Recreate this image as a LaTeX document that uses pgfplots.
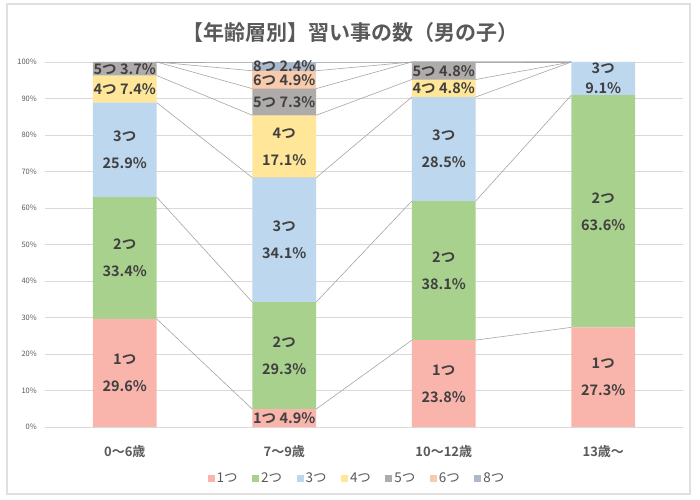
\documentclass[border=0pt]{standalone}
\usepackage{fontspec}
\setmainfont{Noto Sans CJK JP}[BoldFont={Noto Sans CJK JP Bold}]
\usepackage{pgfplots}
\pgfplotsset{compat=1.18}
\definecolor{c1}{HTML}{F9B5AC}
\definecolor{c2}{HTML}{A9D18E}
\definecolor{c3}{HTML}{BDD7EE}
\definecolor{c4}{HTML}{FFE699}
\definecolor{c5}{HTML}{AFABAB}
\definecolor{c6}{HTML}{F8CBAD}
\definecolor{c8}{HTML}{ADB9CA}
\definecolor{txt}{HTML}{404040}
\definecolor{ttl}{HTML}{595959}
\definecolor{grd}{HTML}{D9D9D9}
\definecolor{sl}{HTML}{A6A6A6}
\begin{document}
\begin{tikzpicture}
\useasboundingbox (0,0) rectangle (700bp,500bp);
\fill[white] (0,0) rectangle (700bp,500bp);
\draw[black!12, line width=1.2bp] (7bp,6bp) rectangle (690bp,496bp);
\node[font=\bfseries\fontsize{21bp}{25bp}\selectfont, text=ttl] at (350bp,467bp) {【年齢層別】習い事の数（男の子）};

% axis 1: grid, ticks, series lines
\begin{axis}[at={(45bp,73bp)}, anchor=south west, scale only axis,
  width=638bp, height=365bp,
  xmin=-0.5, xmax=3.5, ymin=0, ymax=100,
  stack plots=y,
  xtick={0,1,2,3}, xticklabels={0～6歳,7～9歳,10～12歳,13歳～},
  ytick={0,10,...,100}, yticklabel={\pgfmathprintnumber{\tick}\%},
  /pgf/number format/assume math mode=true,
  ymajorgrids, grid style={grd, line width=0.75bp},
  axis line style={draw=none}, major tick length=0pt,
  yticklabel style={font=\fontsize{7.5bp}{9bp}\selectfont, text=ttl, inner sep=0pt, xshift=-8bp},
  xticklabel style={font=\bfseries\fontsize{13bp}{15bp}\selectfont, text=ttl, anchor=center, yshift=-25bp},
]
\addplot[sl, line width=0.6bp] coordinates {(0.2,29.6) (0.8,4.9) (1.2,4.9) (1.8,23.8) (2.2,23.8) (2.8,27.3)};
\addplot[sl, line width=0.6bp] coordinates {(0.2,33.4) (0.8,29.3) (1.2,29.3) (1.8,38.1) (2.2,38.1) (2.8,63.6)};
\addplot[sl, line width=0.6bp] coordinates {(0.2,25.9) (0.8,34.1) (1.2,34.1) (1.8,28.5) (2.2,28.5) (2.8,9.1)};
\addplot[sl, line width=0.6bp] coordinates {(0.2,7.4) (0.8,17.1) (1.2,17.1) (1.8,4.8) (2.2,4.8) (2.8,0)};
\addplot[sl, line width=0.6bp] coordinates {(0.2,3.7) (0.8,7.3) (1.2,7.3) (1.8,4.8) (2.2,4.8) (2.8,0)};
\addplot[sl, line width=0.6bp] coordinates {(0.2,0) (0.8,4.9) (1.2,4.9) (1.8,0) (2.2,0) (2.8,0)};
\addplot[sl, line width=0.6bp] coordinates {(0.2,0) (0.8,2.4) (1.2,2.4) (1.8,0) (2.2,0) (2.8,0)};
\end{axis}

% axis 2: stacked bars, labels, legend
\begin{axis}[at={(45bp,73bp)}, anchor=south west, scale only axis,
  width=638bp, height=365bp,
  xmin=-0.5, xmax=3.5, ymin=0, ymax=100,
  hide axis,
  ybar stacked, bar width=0.4,
  point meta=explicit symbolic,
  nodes near coords={\pgfplotspointmeta},
  every node near coord/.append style={anchor=center, align=center,
     inner sep=0pt, text=txt,
     font=\bfseries\fontsize{14.5bp}{27bp}\selectfont},
  legend style={at={(0.5,-0.14)}, anchor=center, xshift=-7bp, draw=none, fill=none,
     legend columns=-1, font=\fontsize{13.5bp}{15bp}\selectfont, text=ttl,
     /tikz/every even column/.append style={column sep=12.5bp}},
  legend image code/.code={\draw[#1, draw=none] (0bp,-3.5bp) rectangle (7bp,3.5bp);},
]
\addplot[fill=c1, draw=none] coordinates {(0,29.6)[{1つ\\29.6\%}] (1,4.9)[{1つ 4.9\%}] (2,23.8)[{1つ\\23.8\%}] (3,27.3)[{1つ\\27.3\%}]};
\addplot[fill=c2, draw=none] coordinates {(0,33.4)[{2つ\\33.4\%}] (1,29.3)[{2つ\\29.3\%}] (2,38.1)[{2つ\\38.1\%}] (3,63.6)[{2つ\\63.6\%}]};
\addplot[fill=c3, draw=none] coordinates {(0,25.9)[{3つ\\25.9\%}] (1,34.1)[{3つ\\34.1\%}] (2,28.5)[{3つ\\28.5\%}] (3,9.1)[{3つ\\[-7bp]9.1\%}]};
\addplot[fill=c4, draw=none] coordinates {(0,7.4)[{4つ 7.4\%}] (1,17.1)[{4つ\\17.1\%}] (2,4.8)[{4つ 4.8\%}] (3,0)[{}]};
\addplot[fill=c5, draw=none] coordinates {(0,3.7)[{5つ 3.7\%}] (1,7.3)[{5つ 7.3\%}] (2,4.8)[{5つ 4.8\%}] (3,0)[{}]};
\addplot[fill=c6, draw=none] coordinates {(0,0)[{}] (1,4.9)[{6つ 4.9\%}] (2,0)[{}] (3,0)[{}]};
\addplot[fill=c8, draw=none] coordinates {(0,0)[{}] (1,2.4)[{8つ 2.4\%}] (2,0)[{}] (3,0)[{}]};
\legend{1つ,2つ,3つ,4つ,5つ,6つ,8つ}
\end{axis}
\end{tikzpicture}
\end{document}
